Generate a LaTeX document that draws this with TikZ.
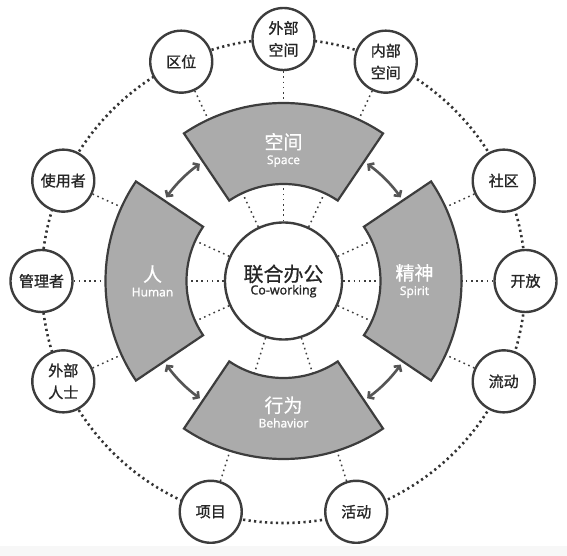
\documentclass[tikz,border=0pt]{standalone}
\usepackage{fontspec}
\setmainfont{Noto Sans CJK SC}
\newfontfamily\heavyfont{Noto Sans CJK SC}[FakeBold=1.2]
\newfontfamily\semifont{Noto Sans CJK SC}[FakeBold=0.6]
\newfontfamily\latinfont{Open Sans}[FakeBold=1.5]
\usetikzlibrary{arrows.meta}

\definecolor{edgegray}{HTML}{3D3D3D}
\definecolor{wedgegray}{HTML}{ABABAB}
\definecolor{linkgray}{HTML}{555555}

\tikzset{
  sat/.style={circle, draw=edgegray, line width=2.4pt, fill=white,
    minimum size=62pt, inner sep=0pt, align=center, text=black!85,
    font=\heavyfont\fontsize{15}{22}\selectfont},
  hubnode/.style={circle, draw=edgegray, line width=2.4pt, fill=white,
    minimum size=117pt, inner sep=0pt, align=center, text=black!85},
  wedge/.style={fill=wedgegray, draw=edgegray, line width=2.2pt},
  wedgetext/.style={align=center, text=white, inner sep=0pt, font=\semifont},
  thin dots/.style={draw=edgegray, line width=1.5pt, dash pattern=on 1.6pt off 3.6pt},
  ring dots/.style={draw=black!80, line width=2.6pt, dash pattern=on 2.2pt off 3.3pt},
  link/.style={draw=linkgray, line width=2.6pt,
    {Straight Barb[length=4pt,width=9pt]}-{Straight Barb[length=4pt,width=9pt]}}
}

\begin{document}
\begin{tikzpicture}[x=1pt, y=1pt]
\useasboundingbox (-283.5,-275) rectangle (283.5,281);
\fill[gray!6] (-283.5,-275) rectangle (283.5,-265);

% dotted ring through the outer circles
\draw[ring dots] (0,0) circle (242);

% centre
\node[hubnode] (hub) at (0,0) {{\semifont\fontsize{20}{20}\selectfont 联合办公}\\[1pt]{\latinfont\fontsize{12.5}{12}\selectfont Co-working}};

% outer circles with their dotted spokes
\foreach \a/\n/\t in {90/ws/{外部\\空间}, 115/qw/{区位}, 65/ns/{内部\\空间},
    24.5/sq/{社区}, 0/kf/{开放}, -24.5/ld/{流动},
    -72.5/hd/{活动}, -107.5/xm/{项目},
    204.5/wr/{外部\\人士}, 180/gl/{管理者}, 155.5/sy/{使用者}} {
  \coordinate (i\n) at (\a:97);
  \coordinate (e\n) at (\a:178);
  \draw[thin dots] (hub) -- (i\n);
  \node[sat] (\n) at (\a:242) {\t};
  \draw[thin dots] (\n) -- (e\n);
}

% four sectors
\foreach \a/\n/\cn/\en in {90/space/空间/Space, 180/human/人/Human,
    270/behavior/行为/Behavior, 0/spirit/精神/Spirit} {
  \filldraw[wedge] ({\a-34}:97) arc[start angle={\a-34}, end angle={\a+34}, radius=97]
    -- ({\a+34}:178) arc[start angle={\a+34}, end angle={\a-34}, radius=178] -- cycle;
  \node[wedgetext] (\n) at (\a:131) {{\fontsize{19}{19}\selectfont \cn}\\[3pt]{\latinfont\fontsize{12}{12}\selectfont \en}};
}

% double arrows in the gaps
\foreach \g in {45,135,225,315} {
  \coordinate (a\g) at ({\g-9.5}:144);
  \draw[link] (a\g) arc[start angle={\g-9.5}, end angle={\g+9.5}, radius=144];
}

\end{tikzpicture}
\end{document}
